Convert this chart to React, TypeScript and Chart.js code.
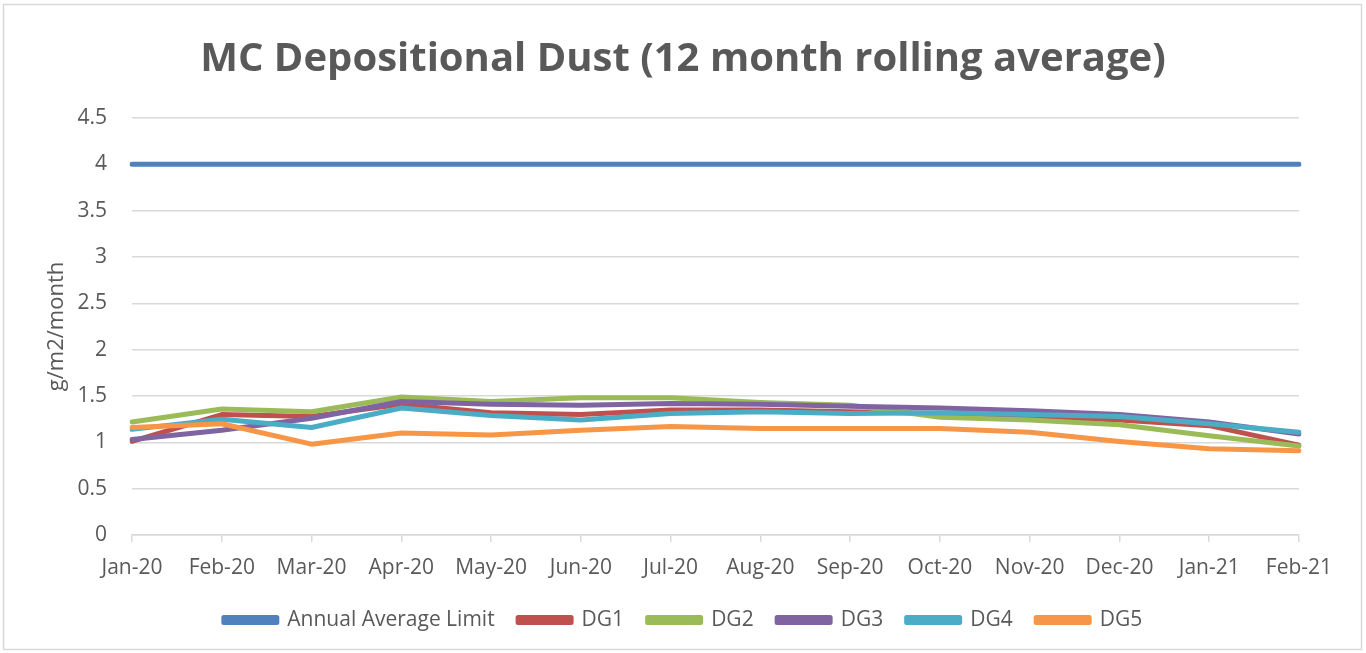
import React, { useEffect, useRef } from "react";
import { Chart, registerables } from "chart.js";

Chart.register(...registerables);

const months = ["Jan-20", "Feb-20", "Mar-20", "Apr-20", "May-20", "Jun-20", "Jul-20", "Aug-20", "Sep-20", "Oct-20", "Nov-20", "Dec-20", "Jan-21", "Feb-21"];
const annualLimit = [4, 4, 4, 4, 4, 4, 4, 4, 4, 4, 4, 4, 4, 4];
const dg1 = [1.01, 1.30, 1.28, 1.41, 1.32, 1.30, 1.35, 1.35, 1.33, 1.31, 1.28, 1.24, 1.18, 0.97];
const dg2 = [1.22, 1.36, 1.33, 1.49, 1.44, 1.48, 1.48, 1.43, 1.40, 1.27, 1.24, 1.19, 1.07, 0.96];
const dg3 = [1.03, 1.13, 1.26, 1.44, 1.41, 1.40, 1.42, 1.41, 1.39, 1.37, 1.34, 1.30, 1.22, 1.09];
const dg4 = [1.14, 1.25, 1.16, 1.37, 1.29, 1.24, 1.31, 1.33, 1.31, 1.32, 1.30, 1.28, 1.20, 1.11];
const dg5 = [1.16, 1.20, 0.98, 1.10, 1.08, 1.13, 1.17, 1.15, 1.15, 1.15, 1.11, 1.01, 0.93, 0.91];
const seriesNames = ["Annual Average Limit", "DG1", "DG2", "DG3", "DG4", "DG5"];
const seriesColors = ["#4F81BD", "#C0504D", "#9BBB59", "#8064A2", "#4BACC6", "#F79646"];
const yTicks = [0, 0.5, 1, 1.5, 2, 2.5, 3, 3.5, 4, 4.5];

const TEXT = "#595959";
const GRID = "#D9D9D9";
const FONT = "'Open Sans', sans-serif";

export default function App() {
  const ref = useRef<HTMLCanvasElement | null>(null);

  useEffect(() => {
    if (!ref.current) return;
    const allData = [annualLimit, dg1, dg2, dg3, dg4, dg5];
    const bgPlugin = {
      id: "bgBorder",
      beforeDraw(chart: any) {
        const ctx = chart.ctx;
        ctx.save();
        ctx.fillStyle = "#ffffff";
        ctx.fillRect(0, 0, chart.width, chart.height);
        ctx.strokeStyle = GRID;
        ctx.lineWidth = 1.5;
        ctx.strokeRect(3.5, 4.5, 1358, 645);
        ctx.restore();
      },
    };
    const chart = new Chart(ref.current, {
      type: "line",
      data: {
        labels: months,
        datasets: seriesNames.map((name, i) => ({
          label: name,
          data: allData[i],
          borderColor: seriesColors[i],
          backgroundColor: seriesColors[i],
          borderWidth: 5,
          pointRadius: 0,
          pointHoverRadius: 0,
          tension: 0,
          fill: false,
          borderCapStyle: "round",
          borderJoinStyle: "round",
          order: seriesNames.length - 1 - i,
          yAxisID: "y",
        })),
      },
      options: {
        responsive: false,
        maintainAspectRatio: false,
        animation: false,
        layout: { padding: { left: 0, right: 0, top: 0, bottom: 12.5 } },
        plugins: {
          title: {
            display: true,
            text: "MC Depositional Dust (12 month rolling average)",
            color: TEXT,
            font: { family: FONT, size: 40, weight: "bold" },
            padding: { top: 35.5, bottom: 34.5 },
          },
          legend: {
            position: "bottom",
            labels: {
              color: TEXT,
              font: { family: FONT, size: 21 },
              boxWidth: 53,
              boxHeight: 5,
              padding: 23.5,
              sort: (a: any, b: any) => a.datasetIndex - b.datasetIndex,
            },
          },
          tooltip: { enabled: false },
        },
        scales: {
          x: {
            offset: false,
            grid: {
              display: true,
              drawOnChartArea: false,
              drawTicks: true,
              tickLength: 7,
              color: GRID,
              lineWidth: 1.5,
            },
            border: { display: true, color: GRID, width: 1.5 },
            ticks: {
              color: TEXT,
              font: { family: FONT, size: 21 },
              padding: 13,
              maxRotation: 0,
              autoSkip: false,
            },
            afterFit: (scale: any) => {
              scale.height = 51;
            },
          },
          y: {
            position: "left",
            min: 0,
            max: 4.5,
            afterBuildTicks: (scale: any) => {
              scale.ticks = yTicks.map((v) => ({ value: v }));
            },
            grid: { color: GRID, lineWidth: 1.5, drawTicks: false },
            border: { display: false },
            ticks: {
              color: TEXT,
              font: { family: FONT, size: 21 },
              padding: 25,
              callback: (v: any) => String(Number(v)),
            },
            title: {
              display: true,
              text: "g/m2/month",
              color: TEXT,
              font: { family: FONT, size: 22 },
              padding: { top: 44, bottom: 0 },
            },
            afterFit: (scale: any) => {
              scale.width = 132;
            },
          },
          yRight: {
            position: "right",
            display: true,
            grid: { display: false, drawTicks: false },
            border: { display: false },
            ticks: { display: false },
            afterFit: (scale: any) => {
              scale.width = 67;
            },
          },
        },
      },
      plugins: [bgPlugin],
    } as any);
    return () => chart.destroy();
  }, []);

  return (
    <div style={{ position: "absolute", left: 0, top: 0, width: 1366, height: 653, background: "#fff" }}>
      <canvas ref={ref} width={1366} height={653} style={{ display: "block" }} />
    </div>
  );
}
